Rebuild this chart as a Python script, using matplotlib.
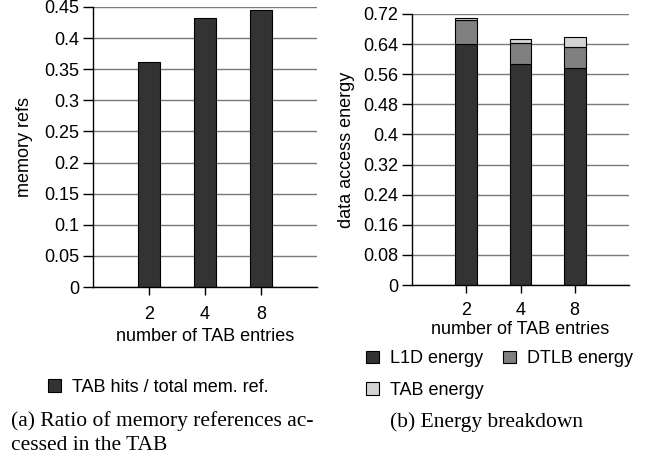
import numpy as np
from matplotlib import pyplot as plt
from matplotlib.patches import Patch

plt.rcParams['font.family'] = ['Liberation Sans', 'DejaVu Sans']

entries = ['2', '4', '8']
tab_hit_ratio = [0.361, 0.433, 0.445]

l1d_energy = [0.640, 0.586, 0.576]
dtlb_energy = [0.064, 0.056, 0.055]
tab_energy = [0.005, 0.012, 0.027]

dark = '#333333'
mid = '#808080'
light = '#d3d3d3'
grid_color = '#7a7a7a'


def style_axes(ax, ymax, step, xpad, labelpad):
    ax.set_xlim(0, 4)
    ax.set_ylim(0, ymax)
    ticks = np.arange(0, ymax + step / 2, step)
    ax.set_yticks(ticks)
    ax.set_yticklabels([fmt_tick(t) for t in ticks])
    ax.set_xticks([1, 2, 3])
    ax.set_xticklabels(entries)
    for name in ['top', 'right']:
        ax.spines[name].set_visible(False)
    ax.spines['left'].set_linewidth(1.0)
    ax.spines['bottom'].set_linewidth(1.0)
    ax.yaxis.grid(True, color=grid_color, linewidth=1.0)
    ax.set_axisbelow(True)
    ax.tick_params(axis='y', length=7, width=1.0, labelsize=13, pad=3)
    ax.tick_params(axis='x', length=6, width=1.0, labelsize=13, pad=xpad)
    ax.set_xlabel('number of TAB entries', fontsize=13, labelpad=labelpad)


def fmt_tick(t):
    s = ('%.2f' % t).rstrip('0').rstrip('.')
    return s if s else '0'


fig = plt.figure(figsize=(6.55, 4.58), dpi=100)

ax1 = fig.add_axes([93 / 655, 1 - 287 / 458, 224 / 655, 280 / 458])
x = np.arange(1, len(entries) + 1)
ax1.bar(x, tab_hit_ratio, width=0.4, color=dark, edgecolor='black', linewidth=0.8)
style_axes(ax1, 0.45, 0.05, 8, 3)
ax1.set_ylabel('memory refs', fontsize=13, labelpad=8)

ax2 = fig.add_axes([412 / 655, 1 - 285 / 458, 217 / 655, 271 / 458])
ax2.bar(x, l1d_energy, width=0.4, color=dark, edgecolor='black', linewidth=0.8)
ax2.bar(x, dtlb_energy, width=0.4, bottom=l1d_energy, color=mid,
        edgecolor='black', linewidth=0.8)
bottom2 = np.array(l1d_energy) + np.array(dtlb_energy)
ax2.bar(x, tab_energy, width=0.4, bottom=bottom2, color=light,
        edgecolor='black', linewidth=0.8)
style_axes(ax2, 0.72, 0.08, 6, 2)
ax2.set_ylabel('data access energy', fontsize=13, labelpad=6)

sq = dict(edgecolor='black', linewidth=0.8)
fig.legend(handles=[Patch(facecolor=dark, label='TAB hits / total mem. ref.', **sq)],
           loc='center left', bbox_to_anchor=(41 / 655, 1 - 387 / 458),
           frameon=False, fontsize=13, handlelength=0.7, handleheight=0.7,
           handletextpad=0.6, borderaxespad=0)
fig.legend(handles=[Patch(facecolor=dark, label='L1D energy', **sq),
                    Patch(facecolor=light, label='TAB energy', **sq),
                    Patch(facecolor=mid, label='DTLB energy', **sq)],
           ncol=2, loc='upper left', bbox_to_anchor=(359 / 655, 1 - 343 / 458),
           frameon=False, fontsize=13, handlelength=0.7, handleheight=0.7,
           handletextpad=0.6, columnspacing=1.1, labelspacing=0.8, borderaxespad=0)

serif = ['Liberation Serif', 'DejaVu Serif']
fig.text(11 / 655, 1 - 421 / 458, '(a) Ratio of memory references ac-',
         family=serif, fontsize=15.5, va='center', ha='left')
fig.text(11 / 655, 1 - 446 / 458, 'cessed in the TAB',
         family=serif, fontsize=15.5, va='center', ha='left')
fig.text(390 / 655, 1 - 422 / 458, '(b) Energy breakdown',
         family=serif, fontsize=15.5, va='center', ha='left')

fig.savefig('out.png', dpi=100)
